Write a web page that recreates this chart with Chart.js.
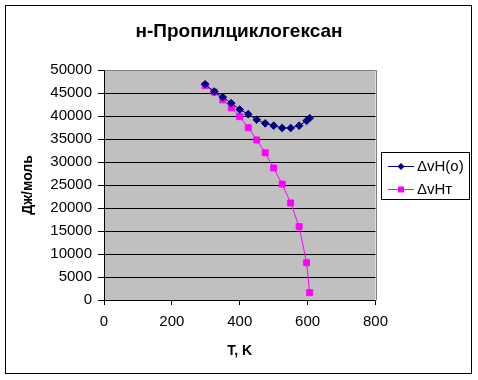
<!DOCTYPE html>
<html><head><meta charset="utf-8">
<script src="https://cdn.jsdelivr.net/npm/chart.js@4/dist/chart.umd.min.js"></script>
<style>html,body{margin:0;padding:0;background:#fff}#wrap{width:478px;height:380px;position:relative}</style>
</head><body><div id="wrap"><canvas id="c" width="478" height="380"></canvas></div>
<script>
const chartTitle = "н-Пропилциклогексан";
const xTitle = "T, K";
const yTitle = "Дж/моль";
const seriesNames = ["ΔvH(o)", "ΔvHт"];
const temps = [298, 325, 350, 375, 400, 425, 450, 475, 500, 525, 550, 575, 597, 606];
const dHo = [46900, 45300, 44100, 42800, 41400, 40400, 39200, 38400, 37900, 37400, 37400, 37900, 38950, 39550];
const dHt = [46600, 45200, 43500, 41800, 39850, 37450, 34800, 32000, 28700, 25200, 21100, 15950, 8100, 1600];
const xTicks = [0, 200, 400, 600, 800];
const yTicks = [0, 5000, 10000, 15000, 20000, 25000, 30000, 35000, 40000, 45000, 50000];

const FONT = "Arial, 'Liberation Sans', sans-serif";
const toPts = (ys) => temps.map((t, i) => ({x: t, y: ys[i]}));

const deco = {
  id: 'deco',
  beforeDraw(chart) {
    const {ctx, chartArea: a} = chart;
    ctx.save();
    ctx.fillStyle = '#fff';
    ctx.fillRect(0, 0, chart.width, chart.height);
    ctx.fillStyle = '#C0C0C0';
    ctx.fillRect(a.left, a.top, a.right - a.left, a.bottom - a.top);
    ctx.restore();
  },
  afterDatasetsDraw(chart) {
    const {ctx, chartArea: a} = chart;
    ctx.save();
    ctx.strokeStyle = '#808080';
    ctx.lineWidth = 1;
    ctx.beginPath();
    ctx.moveTo(Math.round(a.left) + 0.5, Math.round(a.top) + 0.5);
    ctx.lineTo(Math.round(a.right) + 0.5, Math.round(a.top) + 0.5);
    ctx.lineTo(Math.round(a.right) + 0.5, Math.round(a.bottom) + 0.5);
    ctx.stroke();
    // outer frame
    ctx.strokeStyle = '#000';
    ctx.strokeRect(5.5, 5.5, 466, 368);
    // chart title
    ctx.fillStyle = '#000';
    ctx.font = 'bold 19px ' + FONT;
    ctx.textAlign = 'center';
    ctx.textBaseline = 'middle';
    ctx.fillText(chartTitle, 239, 32);
    // legend
    const lx = 381.5, ly = 152.5, lw = 88, lh = 47;
    ctx.strokeRect(lx, ly, lw, lh);
    const rows = [166, 189];
    chart.data.datasets.forEach((ds, i) => {
      const y = rows[i] + 0.5;
      ctx.strokeStyle = ds.borderColor;
      ctx.lineWidth = 1;
      ctx.beginPath(); ctx.moveTo(388, y); ctx.lineTo(414, y); ctx.stroke();
      ctx.fillStyle = ds.backgroundColor;
      ctx.beginPath();
      if (ds.pointStyle === 'rectRot') {
        ctx.moveTo(401, y - 3.5); ctx.lineTo(404.5, y); ctx.lineTo(401, y + 3.5); ctx.lineTo(397.5, y); ctx.closePath();
      } else {
        ctx.rect(398, y - 3, 6, 6);
      }
      ctx.fill();
      ctx.fillStyle = '#000';
      ctx.font = '15px ' + FONT;
      ctx.textBaseline = 'middle';
      ctx.textAlign = 'left';
      ctx.fillText(ds.label, 417, y);
    });
    ctx.restore();
  }
};

new Chart(document.getElementById('c'), {
  type: 'scatter',
  data: {
    datasets: [
      {label: seriesNames[0], data: toPts(dHo), showLine: true, borderColor: '#000080', backgroundColor: '#000080',
       borderWidth: 1, pointStyle: 'rectRot', pointRadius: 3.8, pointBorderWidth: 1, pointBorderColor: '#000080', pointBackgroundColor: '#000080'},
      {label: seriesNames[1], data: toPts(dHt), showLine: true, borderColor: '#FF00FF', backgroundColor: '#FF00FF',
       borderWidth: 1, pointStyle: 'rect', pointRadius: 4.2, pointBorderWidth: 1, pointBorderColor: '#FF00FF', pointBackgroundColor: '#FF00FF'}
    ]
  },
  options: {
    responsive: false, animation: false, devicePixelRatio: 1,
    layout: {padding: {left: 5, right: 102.5, top: 70, bottom: 6}},
    plugins: {
      legend: {display: false},
      tooltip: {enabled: false},
      title: {display: false}
    },
    scales: {
      x: {
        type: 'linear', min: 0, max: 800,
        afterBuildTicks: s => { s.ticks = xTicks.map(v => ({value: v})); },
        afterFit: s => { s.height = 74; },
        ticks: {color: '#000', font: {family: FONT, size: 15}, padding: 8, maxRotation: 0, callback: v => String(v)},
        grid: {drawOnChartArea: false, tickLength: 5, tickColor: '#000', color: '#000'},
        border: {color: '#000', width: 1},
        title: {display: true, text: xTitle, color: '#000', font: {family: FONT, size: 14, weight: 'bold'}, padding: {top: 0, bottom: 14}}
      },
      y: {
        type: 'linear', min: 0, max: 50000,
        afterBuildTicks: s => { s.ticks = yTicks.map(v => ({value: v})); },
        afterFit: s => { s.width = 99; },
        ticks: {color: '#000', font: {family: FONT, size: 15}, padding: 6, callback: v => String(v)},
        grid: {color: (c) => (c.tick && c.tick.value === 50000) ? 'rgba(0,0,0,0)' : '#000', tickColor: '#000', tickLength: 6, lineWidth: 1},
        border: {color: '#000', width: 1},
        title: {display: true, text: yTitle, color: '#000', font: {family: FONT, size: 14, weight: 'bold'}, padding: {top: 15, bottom: 0}}
      }
    }
  },
  plugins: [deco]
});
</script></body></html>
